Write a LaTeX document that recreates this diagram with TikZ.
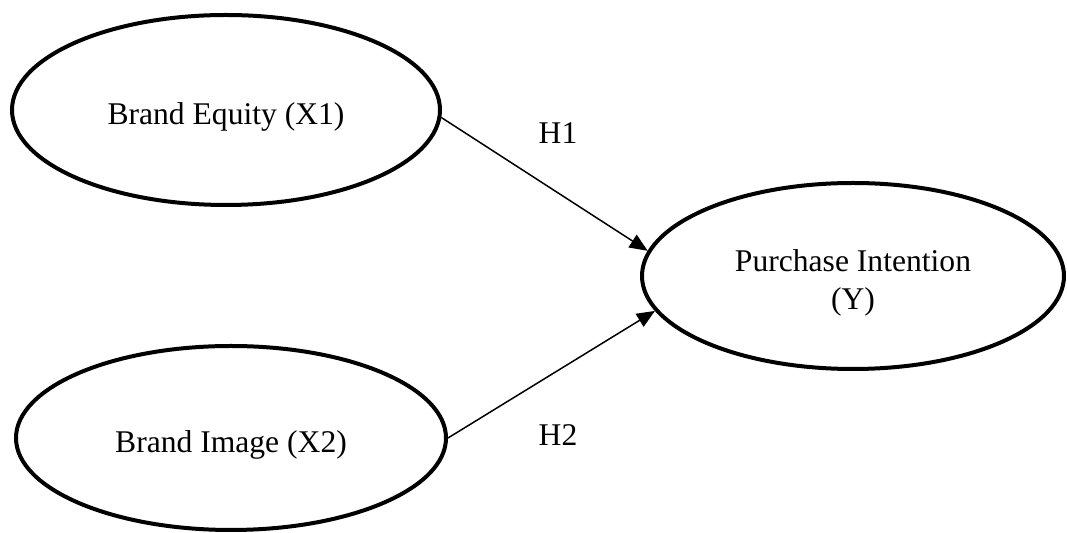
\documentclass[tikz,border=0pt]{standalone}
\usepackage{fontspec}
\setmainfont{Liberation Serif}
\usepackage{tikz}
\usetikzlibrary{shapes.geometric,arrows.meta}
\tikzstyle{var} = [ellipse, draw, line width=2pt, inner sep=0pt, align=center,
  font=\fontsize{15.8}{19}\selectfont]
\tikzstyle{hyp} = [font=\fontsize{15.8}{19}\selectfont]
\tikzstyle{path} = [-{Triangle[length=9pt,width=7.5pt]}, line width=0.75pt]
\newcommand{\vpad}{\rule{0pt}{17.8pt}}

\begin{document}
\begin{tikzpicture}[x=0.5pt, y=-0.5pt]
\useasboundingbox (0,0) rectangle (1067,533);
% variables
\node[var, minimum width=214pt, minimum height=95pt] (equity) at (226,110) {\vpad Brand Equity (X1)};
\node[var, minimum width=215pt, minimum height=92pt] (image) at (231,438) {\vpad Brand Image (X2)};
\node[var, minimum width=211pt, minimum height=93pt] (intent) at (853,276) {\vpad Purchase Intention\\(Y)};
% hypotheses
\draw[path] (equity.358) -- (intent.173);
\draw[path] (image.east) -- (intent.190);
\node[hyp] (h1) at (558,133) {H1};
\node[hyp] (h2) at (558,435) {H2};
\end{tikzpicture}
\end{document}
